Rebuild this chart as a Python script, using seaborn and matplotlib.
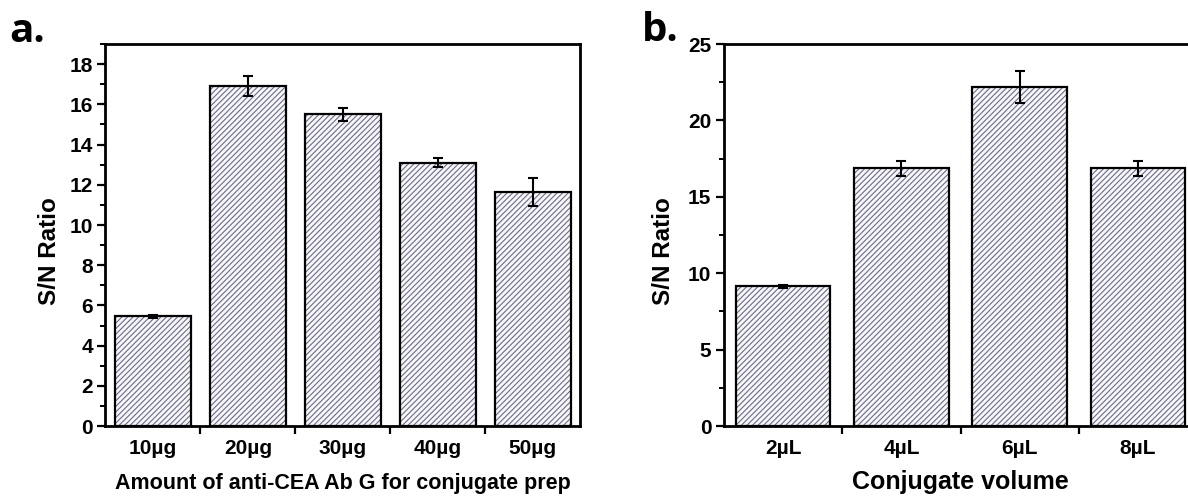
import numpy as np
import pandas as pd
import matplotlib
matplotlib.use("Agg")
import matplotlib.pyplot as plt
import seaborn as sns
from matplotlib.patches import Rectangle
from matplotlib.ticker import MultipleLocator

# ---- data ----
cats_a = ["10µg", "20µg", "30µg", "40µg", "50µg"]
vals_a = [5.45, 16.93, 15.50, 13.10, 11.64]
errs_a = [0.06, 0.50, 0.33, 0.23, 0.68]
xlabel_a = "Amount of anti-CEA Ab G for conjugate prep"

cats_b = ["2µL", "4µL", "6µL", "8µL"]
vals_b = [9.14, 16.88, 22.18, 16.88]
errs_b = [0.12, 0.50, 1.05, 0.50]
xlabel_b = "Conjugate volume"

ylabel = "S/N Ratio"

sns.set_theme(style="ticks")
plt.rcParams["font.family"] = ["Liberation Sans", "DejaVu Sans"]
plt.rcParams["hatch.linewidth"] = 0.8
plt.rcParams["text.color"] = "black"
plt.rcParams["axes.labelcolor"] = "black"
plt.rcParams["xtick.color"] = "black"
plt.rcParams["ytick.color"] = "black"

FILL = "#f6f6fb"
HATCH_COL = "#6c6c84"

fig = plt.figure(figsize=(11.88, 4.96), dpi=100)
ax_a = fig.add_axes([0.0888, 0.1411, 0.3998, 0.770])
ax_b = fig.add_axes([0.6094, 0.1411, 0.3984, 0.770])


def draw(ax, cats, vals, errs, ymax, ymajor, yminor, xlabel, cap, xlpad, ylx):
    df = pd.DataFrame({"cat": cats, "val": vals})
    sns.barplot(data=df, x="cat", y="val", ax=ax, color=FILL, saturation=1,
                errorbar=None, width=0.8, hatch="//////", edgecolor=HATCH_COL,
                linewidth=0)
    for p in list(ax.patches):
        ax.add_patch(Rectangle(p.get_xy(), p.get_width(), p.get_height(),
                               fill=False, edgecolor="black", linewidth=1.6,
                               zorder=3))
    xs = np.arange(len(cats))
    ax.errorbar(xs, vals, yerr=errs, fmt="none", ecolor="black",
                elinewidth=1.5, capsize=cap, capthick=1.5, zorder=4)
    ax.set_xlim(-0.5, len(cats) - 0.5)
    ax.set_ylim(0, ymax)
    ax.yaxis.set_major_locator(MultipleLocator(ymajor))
    ax.yaxis.set_minor_locator(MultipleLocator(yminor))
    ax.set_xticks(xs)
    ax.set_xticklabels(cats, fontsize=15, fontweight="bold")
    ax.set_xticks(xs[:-1] + 0.5, minor=True)
    ax.tick_params(axis="x", which="major", length=0, pad=9)
    ax.tick_params(axis="x", which="minor", length=6, width=1.6,
                   direction="out")
    ax.tick_params(axis="y", which="major", length=6, width=1.6,
                   direction="out", labelsize=15, pad=3)
    ax.tick_params(axis="y", which="minor", length=3.5, width=1.4,
                   direction="out")
    for lab in ax.get_yticklabels():
        lab.set_fontweight("bold")
    for s in ax.spines.values():
        s.set_visible(True)
        s.set_linewidth(2.0)
        s.set_color("black")
    ax.set_ylabel(ylabel, fontsize=17.5, fontweight="bold")
    ax.yaxis.set_label_coords(ylx, 0.458)
    ax.set_xlabel(xlabel, fontweight="bold", labelpad=xlpad)


draw(ax_a, cats_a, vals_a, errs_a, 19, 2, 1, xlabel_a, 3.8, 11, -0.094)
ax_a.xaxis.label.set_fontsize(15.5)
draw(ax_b, cats_b, vals_b, errs_b, 25, 5, 2.5, xlabel_b, 3.8, 9, -0.104)
ax_b.xaxis.label.set_fontsize(18)

fig.text(0.008, 0.915, "a.", fontsize=29, fontweight="bold",
         family=["Open Sans", "DejaVu Sans"], va="baseline")
fig.text(0.540, 0.918, "b.", fontsize=29, fontweight="bold",
         family=["Open Sans", "DejaVu Sans"], va="baseline")

fig.savefig("out.png", dpi=100, facecolor="white")
